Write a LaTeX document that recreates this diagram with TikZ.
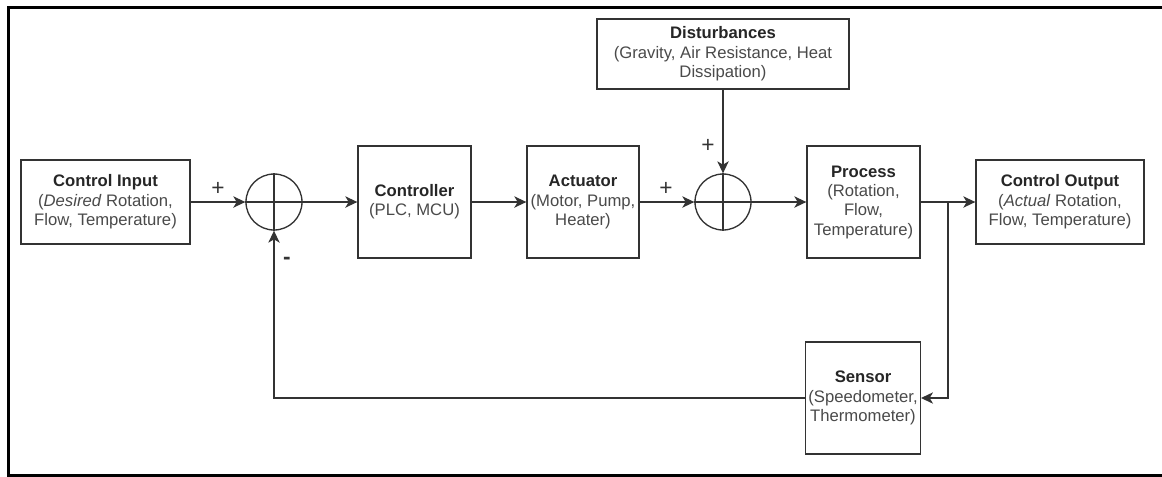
\documentclass[tikz,border=0pt]{standalone}
\usepackage{fontspec}
\setmainfont{Liberation Sans}
\usetikzlibrary{arrows.meta}
\definecolor{linegray}{HTML}{333333}
\definecolor{titlegray}{HTML}{262626}
\definecolor{textgray}{HTML}{4A4A4A}
\tikzstyle{block} = [draw=linegray, line width=1pt, rectangle, fill=white, align=center, inner sep=2pt, text=textgray, font=\fontsize{12.5}{14.5}\selectfont]
\tikzstyle{sumnode} = [draw=linegray, line width=1pt, circle, minimum size=42pt, inner sep=0pt]
\tikzstyle{sign} = [text=linegray, font=\fontsize{17}{17}\selectfont]
\tikzstyle{link} = [draw=linegray, line width=1pt, -{Stealth[length=9pt, width=8.5pt, inset=2.5pt]}]
\newcommand{\ttl}[1]{{\bfseries\color{titlegray}#1}}

\begin{document}
\begin{tikzpicture}[x=0.75pt, y=-0.75pt]
\useasboundingbox (0,0) rectangle (1162,476);
% frame of the screenshot
\draw[line width=2.25pt, black] (1162,7.5) -- (8.5,7.5) -- (8.5,475) -- (1162,475);

% blocks
\node[block, minimum width=126.75pt, minimum height=63pt] (ci) at (105.5,202) {\ttl{Control Input}\\(\textit{Desired} Rotation,\\Flow, Temperature)};
\node[sumnode] (s1) at (274,202) {};
\node[block, minimum width=84.75pt, minimum height=84pt] (ctrl) at (414.5,202) {\ttl{Controller}\\(PLC, MCU)};
\node[block, minimum width=84pt, minimum height=84pt] (act) at (583,202) {\ttl{Actuator}\\(Motor, Pump,\\Heater)};
\node[sumnode] (s2) at (723,202) {};
\node[block, minimum width=189pt, minimum height=52.5pt] (dist) at (723,54) {\ttl{Disturbances}\\(Gravity, Air Resistance, Heat\\Dissipation)};
\node[block, minimum width=84.75pt, minimum height=84pt] (proc) at (863.5,202) {\ttl{Process}\\(Rotation,\\Flow,\\Temperature)};
\node[block, minimum width=126pt, minimum height=63pt] (co) at (1060,202) {\ttl{Control Output}\\(\textit{Actual} Rotation,\\Flow, Temperature)};
\node[block, minimum width=84pt, minimum height=84pt] (sens) at (863,398) {\ttl{Sensor}\\(Speedometer,\\Thermometer)};
\coordinate (br) at (948,202);

% crosses in the summing points
\foreach \s in {s1,s2} {
  \draw[linegray, line width=1pt] (\s.north) -- (\s.south) (\s.west) -- (\s.east);
}

% signs
\node[sign] (p1) at (218,189) {+};
\node[sign, font=\fontsize{17}{17}\selectfont\bfseries] (m1) at (287,261) {-};
\node[sign] (p2) at (666,189) {+};
\node[sign] (p3) at (708,146) {+};

% connections
\draw[link] (ci) -- (s1);
\draw[link] (s1) -- (ctrl);
\draw[link] (ctrl) -- (act);
\draw[link] (act) -- (s2);
\draw[link] (dist) -- (s2);
\draw[link] (s2) -- (proc);
\draw[link] (proc) -- (co);
\draw[link] (br) |- (sens.east);
\draw[link] (sens.west) -| (s1.south);
\end{tikzpicture}
\end{document}
